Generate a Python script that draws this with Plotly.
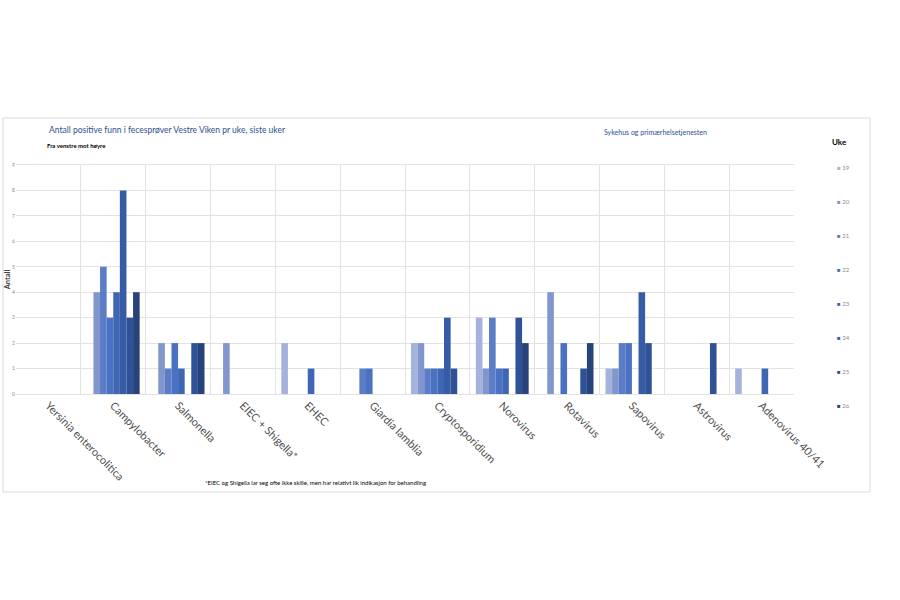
import plotly.graph_objects as go

categories = ["Yersinia enterocolitica", "Campylobacter", "Salmonella", "EIEC + Shigella*",
              "EHEC", "Giardia lamblia", "Cryptosporidium", "Norovirus", "Rotavirus",
              "Sapovirus", "Astrovirus", "Adenovirus 40/41"]
weeks = ["19", "20", "21", "22", "23", "24", "25", "26"]

w19 = [0, 0, 0, 0, 2, 0, 2, 3, 0, 1, 0, 1]
w20 = [0, 4, 2, 2, 0, 0, 2, 1, 4, 1, 0, 0]
w21 = [0, 5, 1, 0, 0, 1, 1, 3, 0, 2, 0, 0]
w22 = [0, 3, 2, 0, 0, 1, 1, 1, 2, 2, 0, 0]
w23 = [0, 4, 1, 0, 1, 0, 1, 1, 0, 0, 0, 1]
w24 = [0, 8, 0, 0, 0, 0, 3, 0, 0, 4, 0, 0]
w25 = [0, 3, 2, 0, 0, 0, 1, 3, 1, 2, 2, 0]
w26 = [0, 4, 2, 0, 0, 0, 0, 2, 2, 0, 0, 0]
series = [w19, w20, w21, w22, w23, w24, w25, w26]

colors = ["#a3b3db", "#8096cc", "#5b7cc6", "#4a71c2", "#3f66b4", "#375ca6", "#2f5296", "#27437a"]

fig = go.Figure()
for wk, vals, col in zip(weeks, series, colors):
    fig.add_trace(go.Bar(x=categories, y=vals, name=wk, marker=dict(color=col, line=dict(width=0)),
                         showlegend=False))
# legend entries: coloured square glyph + week label (symbol itself hidden)
for wk, col in zip(weeks, colors):
    fig.add_trace(go.Scatter(x=[None], y=[None], mode="lines", legendgroup=wk,
                             name=f'<span style="color:{col}">■</span> {wk}',
                             line=dict(color="rgba(0,0,0,0)", width=0)))

L, R, T, B = 16, 106, 165, 206
W, H = 900, 600
pw = W - L - R
ph = H - T - B

def px(xp):
    return (xp - L) / pw

def py(yp):
    return (H - B - yp) / ph

fig.update_layout(
    width=W, height=H,
    margin=dict(l=L, r=R, t=T, b=B, autoexpand=False),
    paper_bgcolor="white", plot_bgcolor="white",
    barmode="group", bargap=0.185, bargroupgap=0,
    font=dict(family="Lato, Open Sans, sans-serif", color="#595959"),
    showlegend=True,
    legend=dict(x=px(797), y=py(153), xanchor="left", yanchor="top",
                font=dict(size=6, color="#8c8c8c"), tracegroupgap=15,
                itemwidth=30, bgcolor="rgba(0,0,0,0)"),
    xaxis=dict(type="category", tickson="boundaries", range=[-0.5, 11.5],
               showgrid=True, gridcolor="#e3e3e3", gridwidth=1,
               ticks="", tickangle=45, automargin=False,
               tickfont=dict(size=11, color="#4d4d4d", family="Lato, sans-serif"),
               showline=True, linecolor="#e3e3e3", mirror=True, zeroline=False),
    yaxis=dict(range=[0, 9], dtick=1, showgrid=True, gridcolor="#e3e3e3", gridwidth=1,
               ticks="", automargin=False, tickfont=dict(size=5, color="#8c8c8c"),
               zeroline=False, showline=False,
               title=dict(text="<b>Antall</b>", font=dict(size=7.5, color="#404040"), standoff=0)),
)

# card border
fig.add_shape(type="rect", xref="paper", yref="paper",
              x0=px(3), x1=px(870), y0=py(492), y1=py(118),
              line=dict(color="#d9d9d9", width=1), fillcolor="rgba(0,0,0,0)", layer="below")

annots = [
    dict(text="Antall positive funn i fecesprøver Vestre Viken pr uke, siste uker",
         x=px(47), y=py(130), size=8.5, color="#2f4f8f", xanchor="left"),
    dict(text="<b>Fra venstre mot høyre</b>", x=px(45), y=py(146), size=6, color="#000000", xanchor="left"),
    dict(text="Sykehus og primærhelsetjenesten", x=px(602), y=py(132), size=7, color="#2f4f8f", xanchor="left"),
    dict(text="<b>Uke</b>", x=px(830), y=py(142), size=8, color="#000000", xanchor="left"),
    dict(text="*EIEC og Shigella lar seg ofte ikke skille, men har relativt lik indikasjon for behandling",
         x=px(203), y=py(482), size=6, color="#000000", xanchor="left"),
]
for a in annots:
    fig.add_annotation(text=a["text"], x=a["x"], y=a["y"], xref="paper", yref="paper",
                       xanchor=a["xanchor"], yanchor="middle", showarrow=False,
                       font=dict(size=a["size"], color=a["color"], family="Lato, Open Sans, sans-serif"))

fig.write_html("out.html")
